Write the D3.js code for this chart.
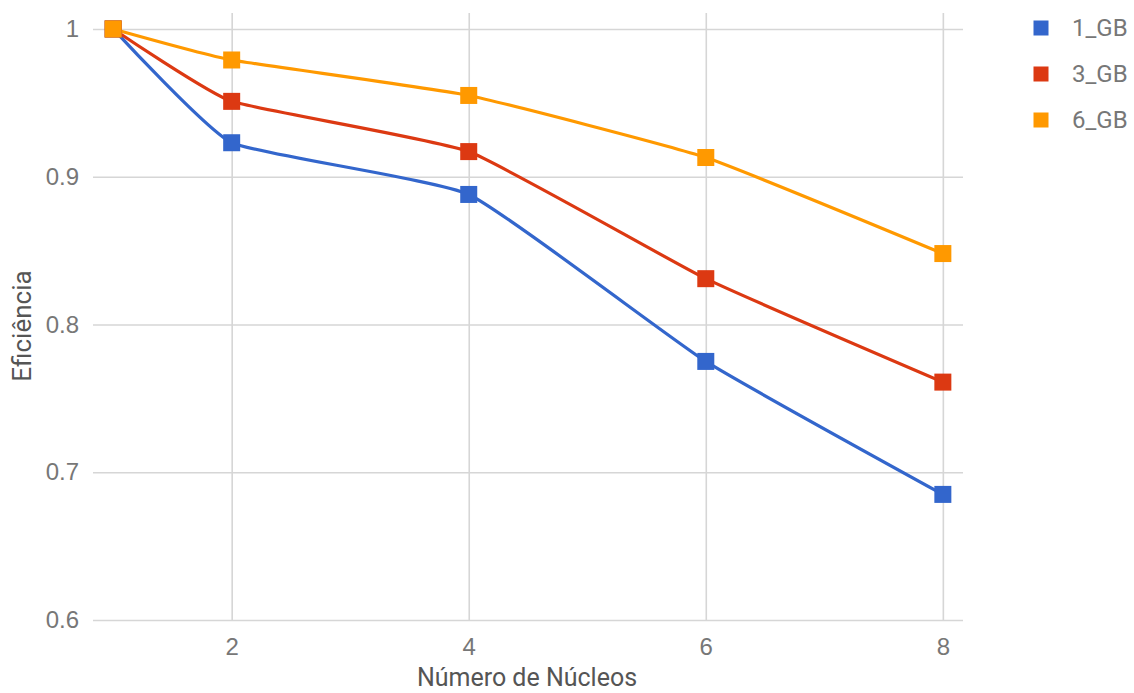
<!DOCTYPE html>
<html>
<head>
<meta charset="utf-8">
<script src="https://cdn.jsdelivr.net/npm/d3@7/dist/d3.min.js"></script>
<style>
  html, body { margin: 0; padding: 0; background: #fff; }
  svg { display: block; font-family: Roboto, "Noto Sans", sans-serif; }
</style>
</head>
<body>
<svg id="chart" width="1134" height="693"></svg>
<script>
// Efficiency by number of cores, one series per data size
const cores = [1, 2, 4, 6, 8];
const seriesNames = ["1_GB", "3_GB", "6_GB"];
const eff1GB = [1.000, 0.923, 0.888, 0.775, 0.685];
const eff3GB = [1.000, 0.951, 0.917, 0.831, 0.761];
const eff6GB = [1.000, 0.979, 0.955, 0.913, 0.848];
const xTicks = [2, 4, 6, 8];
const yTicks = [0.6, 0.7, 0.8, 0.9, 1];
const xTitle = "Número de Núcleos";
const yTitle = "Eficiência";
const colors = ["#3366cc", "#dc3912", "#ff9900"];

const seriesValues = [eff1GB, eff3GB, eff6GB];
const series = seriesNames.map((name, i) => ({
  name,
  color: colors[i],
  points: cores.map((c, j) => ({ x: c, y: seriesValues[i][j] }))
}));

const svg = d3.select("#chart");
const plot = { left: 93, right: 963, top: 13, bottom: 620 };

const x = d3.scaleLinear().domain([0.83, 8.17]).range([plot.left, plot.right]);
const y = d3.scaleLinear().domain([0.6, 1.0108]).range([plot.bottom, plot.top]);

const gridColor = "#d6d6d6";
const tickColor = "#777";

// horizontal gridlines + y tick labels
const yAxis = d3.axisLeft(y).tickValues(yTicks)
  .tickSize(-(plot.right - plot.left)).tickPadding(14)
  .tickFormat(d => d3.format("~g")(d));
const gy = svg.append("g").attr("transform", `translate(${plot.left},0)`).call(yAxis);
gy.select(".domain").remove();
gy.selectAll(".tick line").attr("stroke", gridColor).attr("stroke-width", 1.6);
gy.selectAll(".tick text").attr("fill", tickColor).attr("font-size", 24);

// vertical gridlines + x tick labels
const xAxis = d3.axisBottom(x).tickValues(xTicks)
  .tickSize(-(plot.bottom - plot.top)).tickPadding(18);
const gx = svg.append("g").attr("transform", `translate(0,${plot.bottom})`).call(xAxis);
gx.select(".domain").remove();
gx.selectAll(".tick line").attr("stroke", gridColor).attr("stroke-width", 1.6);
gx.selectAll(".tick text").attr("fill", tickColor).attr("font-size", 24);

// axis titles
svg.append("text")
  .attr("x", (plot.left + plot.right) / 2 - 1).attr("y", 686)
  .attr("text-anchor", "middle").attr("font-size", 25).attr("fill", "#555")
  .text(xTitle);
svg.append("text")
  .attr("transform", `translate(31,326) rotate(-90)`)
  .attr("text-anchor", "middle").attr("font-size", 26).attr("fill", "#555")
  .text(yTitle);

// smoothed lines
const line = d3.line().x(d => x(d.x)).y(d => y(d.y)).curve(d3.curveCardinal.tension(0.6));
svg.append("g").selectAll("path").data(series).join("path")
  .attr("d", d => line(d.points))
  .attr("fill", "none").attr("stroke", d => d.color).attr("stroke-width", 3.2);

// square markers
const ms = 17;
svg.append("g").selectAll("g").data(series).join("g")
  .attr("fill", d => d.color)
  .selectAll("rect").data(d => d.points).join("rect")
  .attr("x", d => x(d.x) - ms / 2).attr("y", d => y(d.y) - ms / 2)
  .attr("width", ms).attr("height", ms);

// legend
const legend = svg.append("g").selectAll("g").data(series).join("g")
  .attr("transform", (d, i) => `translate(1041,${28 + i * 46})`);
legend.append("rect").attr("x", -7.5).attr("y", -7.5).attr("width", 15).attr("height", 15)
  .attr("fill", d => d.color);
legend.append("text").attr("x", 31).attr("dy", "0.35em")
  .attr("font-size", 24).attr("fill", tickColor).text(d => d.name);
</script>
</body>
</html>
